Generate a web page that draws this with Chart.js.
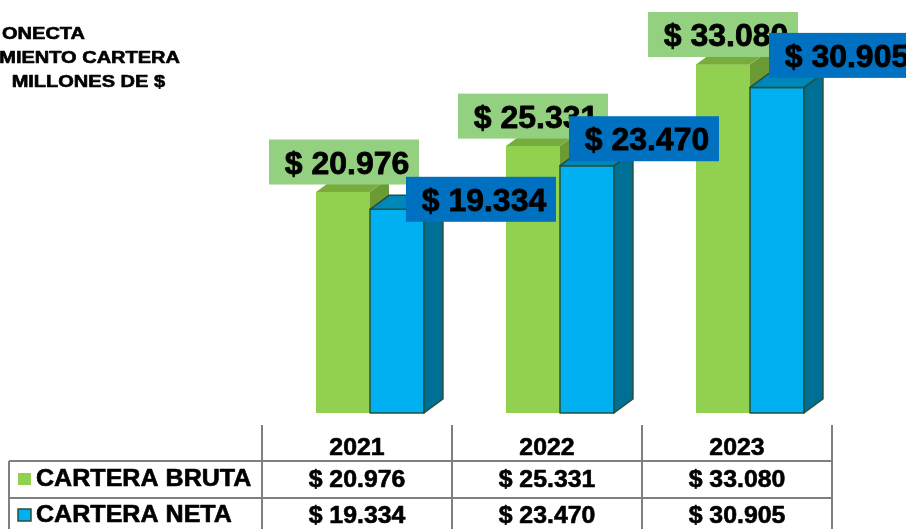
<!DOCTYPE html>
<html>
<head>
<meta charset="utf-8">
<script src="https://cdn.jsdelivr.net/npm/chart.js@4/dist/chart.umd.min.js"></script>
<style>
    body { margin: 0; background: #fff; }
    #wrap { width: 906px; height: 529px; position: relative; }
</style>
</head>
<body>
<div id="wrap"><canvas id="carteraChart"></canvas></div>
<script>
// Data
const categories = ['2021', '2022', '2023'];
const carteraBruta = [20976, 25331, 33080];
const carteraNeta = [19334, 23470, 30905];
const seriesNames = ['CARTERA BRUTA', 'CARTERA NETA'];
const titleLines = ['ONECTA', 'MIENTO CARTERA', ' MILLONES DE $'];

// Style
const FONT = '"Liberation Sans", Arial, sans-serif';
const COLORS = [
    { front: '#92D050', side: '#6C9B36', top: '#78AC3D', label: '#93D07F', edge: null },
    { front: '#00B0F0', side: '#006F96', top: '#0087B9', label: '#0070C0', edge: '#24513A' }
];
const DEPTH = { dx: 19, dy: -14 };
// label box offsets from bar centre / bar top (placed by hand in the original)
const labelShift = [
    [[1, -30], [0, -30], [0, -30]],
    [[84, -10], [57, -27], [67, -32]]
];

function money(n) {
    return '$ ' + String(n).replace(/\B(?=(\d{3})+(?!\d))/g, '.');
}

// bold text drawn a little heavier and optionally widened, like the original
function heavyText(ctx, text, x, y, sx, weight) {
    ctx.save();
    ctx.translate(x, y);
    ctx.scale(sx, 1);
    ctx.lineWidth = weight;
    ctx.lineJoin = 'round';
    ctx.strokeStyle = ctx.fillStyle;
    ctx.strokeText(text, 0, 0);
    ctx.fillText(text, 0, 0);
    ctx.restore();
}

const bars3d = {
    id: 'bars3d',
    afterDatasetsDraw(chart) {
        const ctx = chart.ctx;
        chart.data.datasets.forEach((ds, i) => {
            const c = COLORS[i];
            chart.getDatasetMeta(i).data.forEach(bar => {
                const l = bar.x - bar.width / 2, r = bar.x + bar.width / 2;
                const t = bar.y, b = bar.base;
                ctx.save();
                ctx.lineJoin = 'round';
                ctx.lineWidth = 1.5;
                if (c.edge) ctx.strokeStyle = c.edge;
                // front (repaint so the series on the right covers the left one's side)
                ctx.fillStyle = c.front;
                ctx.fillRect(l, t, r - l, b - t);
                if (c.edge) ctx.strokeRect(l, t, r - l, b - t);
                // side
                ctx.beginPath();
                ctx.moveTo(r, t);
                ctx.lineTo(r + DEPTH.dx, t + DEPTH.dy);
                ctx.lineTo(r + DEPTH.dx, b + DEPTH.dy);
                ctx.lineTo(r, b);
                ctx.closePath();
                ctx.fillStyle = c.side;
                ctx.fill();
                if (c.edge) ctx.stroke();
                // top
                ctx.beginPath();
                ctx.moveTo(l, t);
                ctx.lineTo(l + DEPTH.dx, t + DEPTH.dy);
                ctx.lineTo(r + DEPTH.dx, t + DEPTH.dy);
                ctx.lineTo(r, t);
                ctx.closePath();
                ctx.fillStyle = c.top;
                ctx.fill();
                if (c.edge) ctx.stroke();
                ctx.restore();
            });
        });
    },
    afterDraw(chart) {
        const ctx = chart.ctx;
        const xs = chart.scales.x;

        // value boxes
        ctx.save();
        ctx.font = 'bold 32px ' + FONT;
        ctx.textAlign = 'center';
        ctx.textBaseline = 'alphabetic';
        chart.data.datasets.forEach((ds, i) => {
            chart.getDatasetMeta(i).data.forEach((bar, j) => {
                const cx = bar.x + labelShift[i][j][0];
                const cy = bar.y + labelShift[i][j][1];
                ctx.fillStyle = COLORS[i].label;
                ctx.fillRect(cx - 75, cy - 22.5, 150, 45);
                ctx.fillStyle = '#000';
                heavyText(ctx, money(ds.data[j]), cx + 3, cy + 11.5, 1, 0.8);
            });
        });
        ctx.restore();

        // title (cut off on the left like the original)
        ctx.save();
        ctx.font = 'bold 16px ' + FONT;
        ctx.fillStyle = '#000';
        ctx.textAlign = 'right';
        const titleEnds = [[85, 39], [180, 63], [165, 87]];
        titleLines.forEach((line, k) => heavyText(ctx, line, titleEnds[k][0], titleEnds[k][1], 1.25, 0.6));
        ctx.restore();

        // data table
        const shift = -13;
        const half = (xs.getPixelForValue(1) - xs.getPixelForValue(0)) / 2;
        const colX = categories.map((c, j) => xs.getPixelForValue(j) + shift);
        const gridX = [colX[0] - half].concat(colX.map(x => x + half));
        const rowY = [461, 498];
        ctx.save();
        ctx.strokeStyle = '#7F7F7F';
        ctx.lineWidth = 2;
        ctx.beginPath();
        gridX.forEach(x => { ctx.moveTo(x, 425); ctx.lineTo(x, 529); });
        rowY.forEach(y => { ctx.moveTo(9, y); ctx.lineTo(gridX[gridX.length - 1], y); });
        ctx.moveTo(9, rowY[0]);
        ctx.lineTo(9, 529);
        ctx.stroke();

        ctx.fillStyle = '#000';
        ctx.font = 'bold 23px ' + FONT;
        ctx.textAlign = 'center';
        categories.forEach((c, j) => heavyText(ctx, c, colX[j], 455, 1.08, 0.6));
        const rows = [carteraBruta, carteraNeta];
        const baselines = [487, 523];
        rows.forEach((vals, i) => {
            ctx.textAlign = 'center';
            ctx.fillStyle = '#000';
            vals.forEach((v, j) => heavyText(ctx, money(v), colX[j], baselines[i], 1.08, 0.6));
            // legend key
            const ky = baselines[i] - 14;
            ctx.fillStyle = COLORS[i].front;
            ctx.fillRect(18, ky, 13, 12);
            if (COLORS[i].edge) {
                ctx.lineWidth = 1.5;
                ctx.strokeStyle = COLORS[i].edge;
                ctx.strokeRect(18, ky, 13, 12);
            }
            ctx.fillStyle = '#000';
            ctx.textAlign = 'left';
            heavyText(ctx, seriesNames[i], 36, baselines[i] - 1, 1.09, 0.6);
        });
        ctx.restore();
    }
};

new Chart(document.getElementById('carteraChart'), {
    type: 'bar',
    data: {
        labels: categories,
        datasets: [
            { label: seriesNames[0], data: carteraBruta, backgroundColor: COLORS[0].front },
            { label: seriesNames[1], data: carteraNeta, backgroundColor: COLORS[1].front }
        ]
    },
    options: {
        responsive: true,
        maintainAspectRatio: false,
        animation: false,
        layout: { padding: { left: 275, right: 61, top: 0, bottom: 116 } },
        datasets: { bar: { categoryPercentage: 0.568, barPercentage: 1 } },
        plugins: { legend: { display: false }, tooltip: { enabled: false } },
        scales: {
            x: { display: false },
            y: { display: false, min: 0, max: 39200 }
        }
    },
    plugins: [bars3d]
});
</script>
</body>
</html>
